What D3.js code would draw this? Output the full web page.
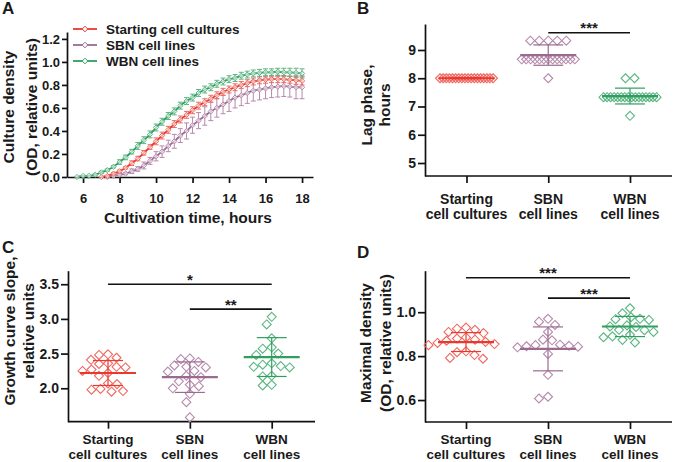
<!DOCTYPE html>
<html><head><meta charset="utf-8">
<script src="https://cdn.jsdelivr.net/npm/d3@7"></script>
<style>
body{margin:0;background:#fff}
svg{display:block}
text{font-family:"Liberation Sans",Arial,sans-serif;font-weight:bold;fill:#1a1a1a}
</style>
</head><body>
<svg id="c" width="673" height="462"></svg>
<script>
// ---------- DATA ----------
const seriesNames = ["Starting cell cultures", "SBN cell lines", "WBN cell lines"];
const seriesColors = ["#e8392e", "#9a6a90", "#2f9e5f"];
const barColors = ["#ef6a62", "#b68aac", "#5db683"];

// Panel A: growth curves (mean ± SD)
const timeStarting = [7,7.33,7.67,8,8.33,8.67,9,9.33,9.67,10,10.33,10.67,11,11.33,11.67,12,12.33,12.67,13,13.33,13.67,14,14.33,14.67,15,15.33,15.67,16,16.33,16.67,17,17.33,17.67,18];
const odStarting = [0.00,0.01,0.03,0.05,0.08,0.12,0.16,0.21,0.26,0.31,0.36,0.41,0.46,0.50,0.54,0.58,0.62,0.65,0.68,0.71,0.74,0.76,0.78,0.80,0.815,0.83,0.84,0.845,0.85,0.85,0.85,0.845,0.84,0.835];
const sdStarting = [0.00,0.00,0.01,0.01,0.01,0.02,0.02,0.02,0.02,0.03,0.03,0.03,0.03,0.03,0.03,0.03,0.03,0.03,0.03,0.03,0.03,0.03,0.03,0.03,0.03,0.03,0.03,0.03,0.03,0.03,0.03,0.03,0.035,0.035];

const timeSBN = [7.33,7.67,8,8.33,8.67,9,9.33,9.67,10,10.33,10.67,11,11.33,11.67,12,12.33,12.67,13,13.33,13.67,14,14.33,14.67,15,15.33,15.67,16,16.33,16.67,17,17.33,17.67,18];
const odSBN = [0.00,0.01,0.02,0.03,0.05,0.07,0.10,0.14,0.18,0.22,0.27,0.31,0.36,0.40,0.45,0.49,0.53,0.57,0.60,0.63,0.66,0.69,0.71,0.73,0.75,0.76,0.77,0.78,0.785,0.79,0.785,0.78,0.78];
const sdSBN = [0.00,0.00,0.01,0.01,0.02,0.02,0.03,0.03,0.04,0.05,0.05,0.06,0.06,0.07,0.07,0.07,0.08,0.08,0.08,0.08,0.09,0.09,0.09,0.09,0.09,0.09,0.09,0.09,0.09,0.09,0.09,0.10,0.10];

const timeWBN = [5.67,6,6.33,6.67,7,7.33,7.67,8,8.33,8.67,9,9.33,9.67,10,10.33,10.67,11,11.33,11.67,12,12.33,12.67,13,13.33,13.67,14,14.33,14.67,15,15.33,15.67,16,16.33,16.67,17,17.33,17.67,18];
const odWBN = [0.00,0.01,0.01,0.02,0.04,0.06,0.09,0.13,0.17,0.22,0.27,0.32,0.37,0.43,0.48,0.53,0.57,0.62,0.66,0.69,0.73,0.76,0.78,0.81,0.83,0.85,0.86,0.88,0.89,0.90,0.905,0.91,0.91,0.915,0.91,0.91,0.905,0.90];
const sdWBN = [0.00,0.00,0.00,0.01,0.01,0.01,0.01,0.02,0.02,0.02,0.03,0.03,0.03,0.03,0.03,0.03,0.03,0.03,0.03,0.03,0.03,0.03,0.03,0.03,0.03,0.03,0.03,0.03,0.03,0.03,0.03,0.03,0.03,0.03,0.035,0.035,0.04,0.04];

const timeTicks = [6, 8, 10, 12, 14, 16, 18];
const odTicks = [0, 0.2, 0.4, 0.6, 0.8, 1.0, 1.2];

// Group labels (panels B-D)
const groupLine1 = ["Starting", "SBN", "WBN"];
const groupLine2 = ["cell cultures", "cell lines", "cell lines"];

// Panel B: lag phase, hours
const lagStarting = [8,8,8,8,8,8,8,8,8,8,8,8,8,8,8,8,8,8];
const lagSBN = [9.33,9.33,9.33,9.33,9.33,8.67,8.67,8.67,8.67,8.67,8.67,8.67,8.67,8.67,8.67,8.67,8.67,8.67,8.0];
const lagWBN = [8.0,8.0,7.33,7.33,7.33,7.33,7.33,7.33,7.33,7.33,7.33,7.33,7.33,7.33,7.33,7.33,7.33,7.33,6.67];
const lagMean = [8.0, 8.82, 7.37];
const lagSD = [0.02, 0.36, 0.28];
const lagTicks = [5, 6, 7, 8, 9];
const lagSig = [{from: 1, to: 2, level: 9.61, label: "***"}];

// Panel C: growth curve slope
const slopeStarting = [2.49,2.48,2.44,2.41,2.36,2.35,2.31,2.30,2.27,2.25,2.22,2.18,2.07,2.06,1.99,1.98,1.96,1.95];
const slopeSBN = [2.43,2.42,2.38,2.33,2.31,2.30,2.25,2.24,2.18,2.16,2.10,2.05,2.03,2.00,1.92,1.80,1.58];
const slopeWBN = [3.03,2.92,2.72,2.59,2.57,2.50,2.48,2.36,2.34,2.32,2.31,2.30,2.18,2.17,2.05,2.04];
const slopeMean = [2.22, 2.16, 2.45];
const slopeSD = [0.18, 0.22, 0.28];
const slopeTicks = [2.0, 2.5, 3.0, 3.5];
const slopeSig = [{from: 0, to: 2, level: 3.5, label: "*"}, {from: 1, to: 2, level: 3.14, label: "**"}];

// Panel D: maximal density
const densStarting = [0.93,0.925,0.92,0.91,0.905,0.885,0.88,0.875,0.87,0.865,0.86,0.855,0.85,0.822,0.818,0.805,0.792,0.788];
const densSBN = [0.97,0.957,0.942,0.91,0.875,0.872,0.852,0.85,0.847,0.845,0.843,0.84,0.81,0.715,0.615,0.607];
const densWBN = [1.018,0.995,0.977,0.97,0.968,0.965,0.94,0.935,0.933,0.92,0.918,0.91,0.897,0.89,0.886,0.874,0.862];
const densMean = [0.864, 0.833, 0.935];
const densSD = [0.043, 0.10, 0.046];
const densTicks = [0.6, 0.8, 1.0];
const densSig = [{from: 0, to: 2, level: 1.157, label: "***"}, {from: 1, to: 2, level: 1.064, label: "***"}];

// ---------- DRAWING ----------
const svg = d3.select("#c");
const AXW = 1.7;

function styleAxis(g, fs) {
  g.selectAll(".domain").attr("stroke", "#111").attr("stroke-width", AXW);
  g.selectAll(".tick line").attr("stroke", "#111").attr("stroke-width", AXW);
  g.selectAll(".tick text").attr("font-size", fs).attr("font-weight", "bold")
    .attr("fill", "#1a1a1a").attr("font-family", '"Liberation Sans",Arial,sans-serif');
}
function diamond(r) { return `M0,${-r}L${r},0L0,${r}L${-r},0Z`; }
function yTitle(g, lines, xs, cy, fs) {
  lines.forEach((t, i) => {
    g.append("text").attr("transform", `translate(${xs[i]},${cy}) rotate(-90)`)
      .attr("text-anchor", "middle").attr("dy", "0.36em").attr("font-size", fs).text(t);
  });
}

// ----- Panel A -----
(function () {
  const g = svg.append("g");
  const x = d3.scaleLinear().domain([5.12, 18.6]).range([67, 313]);
  const y = d3.scaleLinear().domain([0, 1.26]).range([177, 32]);
  const xa = g.append("g").attr("transform", "translate(0,177)")
    .call(d3.axisBottom(x).tickValues(timeTicks).tickSize(6).tickSizeOuter(0).tickPadding(11).tickFormat(d3.format("d")));
  styleAxis(xa, 13);
  const ya = g.append("g").attr("transform", "translate(67,0)")
    .call(d3.axisLeft(y).tickValues(odTicks).tickSize(5).tickSizeOuter(0).tickPadding(2).tickFormat(d3.format(".1f")));
  styleAxis(ya, 13);

  const series = [
    {t: timeSBN, m: odSBN, s: sdSBN, c: 1},
    {t: timeStarting, m: odStarting, s: sdStarting, c: 0},
    {t: timeWBN, m: odWBN, s: sdWBN, c: 2}
  ];
  series.forEach(sr => {
    const pts = sr.t.map((t, i) => ({t, m: sr.m[i], s: sr.s[i]}));
    const eb = g.append("g").attr("stroke", barColors[sr.c]).attr("stroke-width", 1).attr("fill", "none");
    pts.forEach(p => {
      if (p.s <= 0) return;
      const cx = x(p.t);
      eb.append("line").attr("x1", cx).attr("x2", cx).attr("y1", y(p.m - p.s)).attr("y2", y(p.m + p.s));
      eb.append("line").attr("x1", cx - 2.5).attr("x2", cx + 2.5).attr("y1", y(p.m - p.s)).attr("y2", y(p.m - p.s));
      eb.append("line").attr("x1", cx - 2.5).attr("x2", cx + 2.5).attr("y1", y(p.m + p.s)).attr("y2", y(p.m + p.s));
    });
    g.append("path").datum(pts).attr("fill", "none").attr("stroke", seriesColors[sr.c]).attr("stroke-width", 1.8)
      .attr("d", d3.line().x(d => x(d.t)).y(d => y(d.m)).curve(d3.curveMonotoneX));
    g.append("g").selectAll("path").data(pts).join("path")
      .attr("transform", d => `translate(${x(d.t)},${y(d.m)})`).attr("d", diamond(2.6))
      .attr("fill", "#fff").attr("fill-opacity", 0.6).attr("stroke", barColors[sr.c]).attr("stroke-width", 1);
  });

  // legend
  const legY = [29, 45, 61];
  seriesNames.forEach((n, i) => {
    g.append("line").attr("x1", 73).attr("x2", 97).attr("y1", legY[i]).attr("y2", legY[i])
      .attr("stroke", seriesColors[i]).attr("stroke-width", 1.8);
    g.append("path").attr("transform", `translate(85,${legY[i]})`).attr("d", diamond(2.8))
      .attr("fill", "#fff").attr("stroke", seriesColors[i]).attr("stroke-width", 1);
    g.append("text").attr("x", 106).attr("y", legY[i]).attr("dy", "0.36em").attr("font-size", 13.5).text(n);
  });

  g.append("text").attr("x", 188).attr("y", 223).attr("text-anchor", "middle").attr("font-size", 15.5).text("Cultivation time, hours");
  yTitle(g, ["Culture density", "(OD, relative units)"], [8, 31], 107, 15.5);
  g.append("text").attr("x", 2).attr("y", 14).attr("font-size", 17).text("A");
})();

// ----- Scatter panels -----
function swarm(vals, y, d, maxW) {
  const pts = vals.map(v => ({v, y: y(v), x: 0}));
  const order = pts.slice().sort((a, b) => a.y - b.y);
  const placed = [];
  for (const p of order) {
    for (let k = 0; k < 400; k++) {
      const off = (k % 2 === 0 ? 1 : -1) * Math.ceil(k / 2) * 0.5;
      if (placed.every(q => Math.hypot(q.x - off, q.y - p.y) >= d)) { p.x = off; break; }
    }
    placed.push(p);
  }
  const rows = d3.group(pts, p => p.v);
  for (const [, row] of rows) {
    if (row.length > 1) {
      const k = row.length, sp = Math.min(d, maxW / (k - 1));
      row.sort((a, b) => a.x - b.x).forEach((p, i) => p.x = (i - (k - 1) / 2) * sp);
    }
  }
  return pts;
}

function scatterPanel(cfg) {
  const g = svg.append("g");
  const y = d3.scaleLinear().domain(cfg.domain).range([cfg.yBot, cfg.yTop]);
  const x = d3.scalePoint().domain([0, 1, 2]).range(cfg.cats);
  const ya = g.append("g").attr("transform", `translate(${cfg.x0},0)`)
    .call(d3.axisLeft(y).tickValues(cfg.ticks).tickSize(7).tickSizeOuter(0).tickPadding(2).tickFormat(cfg.fmt));
  styleAxis(ya, 14);
  const xa = g.append("g").attr("transform", `translate(0,${cfg.yBot})`)
    .call(d3.axisBottom(x).tickSize(7).tickSizeOuter(0).tickFormat(""));
  styleAxis(xa, 14);
  xa.select(".domain").remove();
  g.append("line").attr("x1", cfg.x0).attr("x2", cfg.x1).attr("y1", cfg.yBot).attr("y2", cfg.yBot)
    .attr("stroke", "#111").attr("stroke-width", AXW);

  [0, 1, 2].forEach(i => {
    g.append("text").attr("x", x(i)).attr("y", cfg.labelY[0]).attr("text-anchor", "middle").attr("font-size", cfg.labelFs).text(groupLine1[i]);
    g.append("text").attr("x", x(i)).attr("y", cfg.labelY[1]).attr("text-anchor", "middle").attr("font-size", cfg.labelFs).text(groupLine2[i]);
  });

  cfg.groups.forEach((vals, i) => {
    const cx = x(i);
    const pts = swarm(vals, y, 9, 53);
    g.append("g").selectAll("path").data(pts).join("path")
      .attr("transform", p => `translate(${cx + p.x},${p.y})`).attr("d", diamond(4.5))
      .attr("fill", "none").attr("stroke", barColors[i]).attr("stroke-width", 1.1);
    const m = cfg.means[i], s = cfg.sds[i];
    const c = seriesColors[i];
    g.append("line").attr("x1", cx).attr("x2", cx).attr("y1", y(m - s)).attr("y2", y(m + s)).attr("stroke", c).attr("stroke-width", 1.2);
    [m - s, m + s].forEach(v => g.append("line").attr("x1", cx - 15).attr("x2", cx + 15).attr("y1", y(v)).attr("y2", y(v)).attr("stroke", c).attr("stroke-width", 1.2));
    g.append("line").attr("x1", cx - 28).attr("x2", cx + 28).attr("y1", y(m)).attr("y2", y(m)).attr("stroke", c).attr("stroke-width", 2.2);
  });

  cfg.sig.forEach(sg => {
    const yy = y(sg.level);
    g.append("line").attr("x1", x(sg.from)).attr("x2", x(sg.to)).attr("y1", yy).attr("y2", yy).attr("stroke", "#111").attr("stroke-width", 1.7);
    g.append("text").attr("x", (x(sg.from) + x(sg.to)) / 2).attr("y", yy + 0.5).attr("text-anchor", "middle").attr("font-size", 15).text(sg.label);
  });

  yTitle(g, cfg.title, cfg.titleX, cfg.titleY, 15.5);
  g.append("text").attr("x", cfg.letterX).attr("y", cfg.letterY).attr("font-size", 17).text(cfg.letter);
}

scatterPanel({
  x0: 425, x1: 672, yTop: 24, yBot: 176, domain: [4.54, 9.92], cats: [466.5, 630],
  ticks: lagTicks, fmt: d3.format("d"), groups: [lagStarting, lagSBN, lagWBN], means: lagMean, sds: lagSD, sig: lagSig,
  labelY: [204, 219], labelFs: 14, title: ["Lag phase,", "hours"], titleX: [366, 384], titleY: 105, letter: "B", letterX: 357, letterY: 14
});
scatterPanel({
  x0: 68, x1: 315, yTop: 270.7, yBot: 421.7, domain: [1.518, 3.695], cats: [108, 271.7],
  ticks: slopeTicks, fmt: d3.format(".1f"), groups: [slopeStarting, slopeSBN, slopeWBN], means: slopeMean, sds: slopeSD, sig: slopeSig,
  labelY: [444, 458.5], labelFs: 13.5, title: ["Growth curve slope,", "relative units"], titleX: [9.5, 28.5], titleY: 331, letter: "C", letterX: 2, letterY: 253
});
scatterPanel({
  x0: 425, x1: 672, yTop: 270.7, yBot: 422, domain: [0.5, 1.189], cats: [466, 630],
  ticks: densTicks, fmt: d3.format(".1f"), groups: [densStarting, densSBN, densWBN], means: densMean, sds: densSD, sig: densSig,
  labelY: [444, 458.5], labelFs: 13.5, title: ["Maximal density", "(OD, relative units)"], titleX: [365, 385], titleY: 343, letter: "D", letterX: 357, letterY: 258
});
</script>
</body></html>
